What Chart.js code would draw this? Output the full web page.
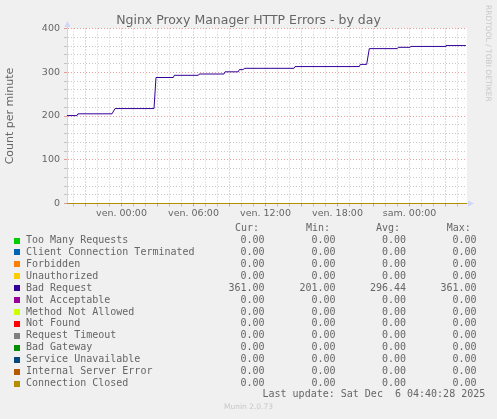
<!DOCTYPE html>
<html>
<head>
<meta charset="utf-8">
<script src="https://cdn.jsdelivr.net/npm/chart.js@4.4.0/dist/chart.umd.min.js"></script>
<style>
  html, body { margin: 0; padding: 0; background: #f0f0f0; }
  #wrap { position: relative; width: 497px; height: 419px; overflow: hidden; }
  #c { position: absolute; left: 0; top: 0; }
  .t { position: absolute; white-space: pre; color: #666; }
  .mono { font: 10px 'DejaVu Sans Mono', monospace; line-height: 12px; }
  .sq { position: absolute; width: 6px; height: 6px; }
  #title { left: 0; width: 497px; text-align: center; top: 11.8px; font: 12.5px 'DejaVu Sans', sans-serif; line-height: 15px; }
  #rrd { left: 484px; top: 5px; font: 7.5px 'DejaVu Sans', sans-serif; line-height: 9px; color: #c8c8c8; writing-mode: vertical-rl; }
  #munin { left: 0; width: 497px; text-align: center; top: 402px; font: 7.5px 'DejaVu Sans', sans-serif; line-height: 9px; color: #c8c8c8; }
</style>
</head>
<body>
<div id="wrap">
  <canvas id="c" width="497" height="419"></canvas>
  <div class="t" id="title">Nginx Proxy Manager HTTP Errors - by day</div>
  <div class="t" id="rrd">RRDTOOL / TOBI OETIKER</div>
  <div class="t" id="munin">Munin 2.0.73</div>
</div>
<script>
// hours relative to Friday 00:00
const viewStart = -4.54
const viewEnd = 28.79
const tickHours = [0, 6, 12, 18, 24]
const tickLabels = ['ven. 00:00', 'ven. 06:00', 'ven. 12:00', 'ven. 18:00', 'sam. 00:00']

const badRequestHours = [-4.54, -3.71, -3.63, -0.79, -0.54, 2.71, 2.875, 4.32, 4.4, 6.4, 6.48, 8.54, 8.625, 9.73, 9.82, 10.15, 10.23, 14.375, 14.46, 19.82, 19.9, 20.43, 20.65, 22.98, 23.07, 24.04, 24.125, 26.96, 27.04, 28.7]
const badRequest = [201, 201, 205, 205, 217, 217, 288, 288, 293, 293, 296, 296, 301, 301, 306, 306, 309, 309, 313, 313, 318, 318, 354, 354, 357, 357, 359, 359, 361, 361]
const zeroHours = [-4.54, 28.79]
const zeroValues = [0, 0]

const seriesNames = ['Too Many Requests', 'Client Connection Terminated', 'Forbidden', 'Unauthorized', 'Bad Request', 'Not Acceptable', 'Method Not Allowed', 'Not Found', 'Request Timeout', 'Bad Gateway', 'Service Unavailable', 'Internal Server Error', 'Connection Closed']
const seriesColors = ['#00cc00', '#0066b3', '#ff8000', '#ffcc00', '#330099', '#990099', '#ccff00', '#ff0000', '#808080', '#008f00', '#00487d', '#b35a00', '#b38f00']
const curValues = [0, 0, 0, 0, 361, 0, 0, 0, 0, 0, 0, 0, 0]
const minValues = [0, 0, 0, 0, 201, 0, 0, 0, 0, 0, 0, 0, 0]
const avgValues = [0, 0, 0, 0, 296.44, 0, 0, 0, 0, 0, 0, 0, 0]
const maxValues = [0, 0, 0, 0, 361, 0, 0, 0, 0, 0, 0, 0, 0]
const lastUpdate = 'Last update: Sat Dec  6 04:40:28 2025'

const axisColor = '#cfd6f8'
const minorGrid = 'rgba(140,140,140,0.45)'
const majorGrid = 'rgba(220,80,80,0.55)'

function toPoints(xs, ys) {
  return xs.map((x, i) => ({ x: x, y: ys[i] }))
}

let datasets = seriesNames.map((name, i) => {
  let pts = name === 'Bad Request' ? toPoints(badRequestHours, badRequest) : toPoints(zeroHours, zeroValues)
  return {
    label: name,
    data: pts,
    borderColor: seriesColors[i],
    borderWidth: 1,
    pointRadius: 0,
    tension: 0,
    clip: false,
    order: seriesNames.length - i  // last series on top, like rrdtool
  }
})

const canvasBg = {
  id: 'canvasBg',
  beforeDraw(chart) {
    const { ctx, chartArea: a } = chart
    ctx.save()
    ctx.fillStyle = '#ffffff'
    ctx.fillRect(a.left, a.top, a.right - a.left, a.bottom - a.top)
    ctx.restore()
  }
}

const arrows = {
  id: 'arrows',
  afterDraw(chart) {
    const { ctx, chartArea: a } = chart
    const x0 = 67.5, y0 = 203.5
    ctx.save()
    ctx.strokeStyle = axisColor
    ctx.fillStyle = axisColor
    ctx.lineWidth = 1
    ctx.beginPath()
    ctx.moveTo(x0, a.top); ctx.lineTo(x0, a.top - 2)
    ctx.moveTo(a.right, y0); ctx.lineTo(a.right + 2, y0)
    ctx.stroke()
    ctx.beginPath()
    ctx.moveTo(x0 - 3, a.top - 1.5); ctx.lineTo(x0 + 3, a.top - 1.5); ctx.lineTo(x0, a.top - 7.5)
    ctx.closePath(); ctx.fill()
    ctx.beginPath()
    ctx.moveTo(a.right + 1, y0 - 3); ctx.lineTo(a.right + 1, y0 + 3); ctx.lineTo(a.right + 7, y0)
    ctx.closePath(); ctx.fill()
    ctx.restore()
  }
}

new Chart(document.getElementById('c'), {
  type: 'line',
  data: { datasets: datasets },
  plugins: [canvasBg, arrows],
  options: {
    responsive: false,
    animation: false,
    devicePixelRatio: 1,
    layout: { padding: { top: 28.5, right: 30, bottom: 195.5, left: 0 } },
    plugins: {
      legend: { display: false },
      tooltip: { enabled: false }
    },
    scales: {
      x: {
        type: 'linear',
        min: viewStart,
        max: viewEnd,
        afterFit: s => { s.height = 20 },
        afterBuildTicks: s => {
          let t = []
          for (let h = Math.ceil(viewStart); h <= Math.floor(viewEnd); h++) t.push({ value: h })
          s.ticks = t
        },
        grid: {
          color: c => (c.tick && c.tick.value % 3 === 0) ? majorGrid : minorGrid,
          tickLength: 3
        },
        border: { display: false, dash: [1, 2] },
        ticks: {
          autoSkip: false,
          maxRotation: 0,
          minRotation: 0,
          padding: 1,
          color: '#666',
          font: { family: 'DejaVu Sans', size: 9.5 },
          callback: v => {
            let k = tickHours.indexOf(v)
            return k >= 0 ? tickLabels[k] : ''
          }
        }
      },
      y: {
        min: 0,
        max: 400,
        afterFit: s => { s.width = 67 },
        grid: {
          color: c => (c.tick && c.tick.value % 100 === 0) ? majorGrid : minorGrid,
          tickLength: 3
        },
        border: { display: true, color: axisColor, dash: [1, 2] },
        ticks: {
          stepSize: 20,
          autoSkip: false,
          padding: 4,
          color: '#666',
          font: { family: 'DejaVu Sans', size: 9.5 },
          callback: v => v % 100 === 0 ? String(v) : ''
        },
        title: {
          display: true,
          text: 'Count per minute',
          color: '#666',
          font: { family: 'DejaVu Sans', size: 11 },
          padding: { top: 3.5, bottom: 0 }
        }
      }
    }
  }
})

// legend table under the graph
const wrap = document.getElementById('wrap')
const rowTop = 233.8
const rowStep = 11.95
function addText(txt, left, top) {
  let d = document.createElement('div')
  d.className = 't mono'
  d.style.left = left + 'px'
  d.style.top = top + 'px'
  d.textContent = txt
  wrap.appendChild(d)
}
function addRight(txt, right, top) {
  let d = document.createElement('div')
  d.className = 't mono'
  d.style.left = (right - 80) + 'px'
  d.style.width = '80px'
  d.style.textAlign = 'right'
  d.style.top = top + 'px'
  d.textContent = txt
  wrap.appendChild(d)
}
addText('Cur:', 235, rowTop - rowStep)
addText('Min:', 306, rowTop - rowStep)
addText('Avg:', 376, rowTop - rowStep)
addText('Max:', 446.7, rowTop - rowStep)
seriesNames.forEach((name, i) => {
  let top = rowTop + i * rowStep
  let sq = document.createElement('div')
  sq.className = 'sq'
  sq.style.left = '14px'
  sq.style.top = (top + 3.7) + 'px'
  sq.style.background = seriesColors[i]
  wrap.appendChild(sq)
  addText(name, 26, top)
  addRight(curValues[i].toFixed(2), 264.5, top)
  addRight(minValues[i].toFixed(2), 335.5, top)
  addRight(avgValues[i].toFixed(2), 406, top)
  addRight(maxValues[i].toFixed(2), 476.5, top)
})
addText(lastUpdate, 262.5, rowTop + seriesNames.length * rowStep - 1)
</script>
</body>
</html>
